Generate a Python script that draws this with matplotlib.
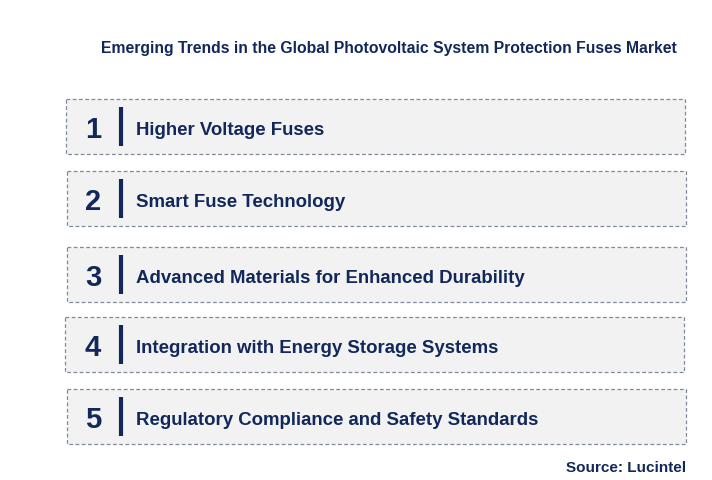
import matplotlib
matplotlib.use("Agg")
import matplotlib.pyplot as plt
from matplotlib.patches import Rectangle

title = "Emerging Trends in the Global Photovoltaic System Protection Fuses Market"
numbers = ["1", "2", "3", "4", "5"]
labels = ["Higher Voltage Fuses", "Smart Fuse Technology",
          "Advanced Materials for Enhanced Durability",
          "Integration with Energy Storage Systems",
          "Regulatory Compliance and Safety Standards"]
source = "Source: Lucintel"

W, H = 712, 481
navy = "#12275a"
plt.rcParams["font.family"] = "Liberation Sans"
fig = plt.figure(figsize=(W/100, H/100), dpi=100)
ax = fig.add_axes([0, 0, 1, 1])
ax.set_xlim(0, W); ax.set_ylim(H, 0); ax.axis("off")

ax.text(389, 48, title, ha="center", va="center", fontsize=11.3, fontweight="bold", color=navy)
tops = [100, 172, 248, 318, 390]
lefts = [66, 67, 67, 65, 67]
bh = 55
for i, (n, lab) in enumerate(zip(numbers, labels)):
    y = tops[i]; x0 = lefts[i]
    ax.add_patch(Rectangle((x0, y), 619, bh, facecolor="#f2f2f2", edgecolor="#7f8a9a",
                           linestyle=(0, (3, 2)), linewidth=0.9))
    ax.text(93, y + bh/2 + 3, n, ha="center", va="center", fontsize=21, fontweight="bold", color=navy)
    ax.plot([121, 121], [y + 8, y + bh - 8], color=navy, linewidth=3, solid_capstyle="butt")
    ax.text(136, y + bh/2 + 3, lab, ha="left", va="center", fontsize=13.4, fontweight="bold", color=navy)

ax.text(686, 468, source, ha="right", va="center", fontsize=11, fontweight="bold", color=navy)
fig.savefig("out.png", dpi=100)
